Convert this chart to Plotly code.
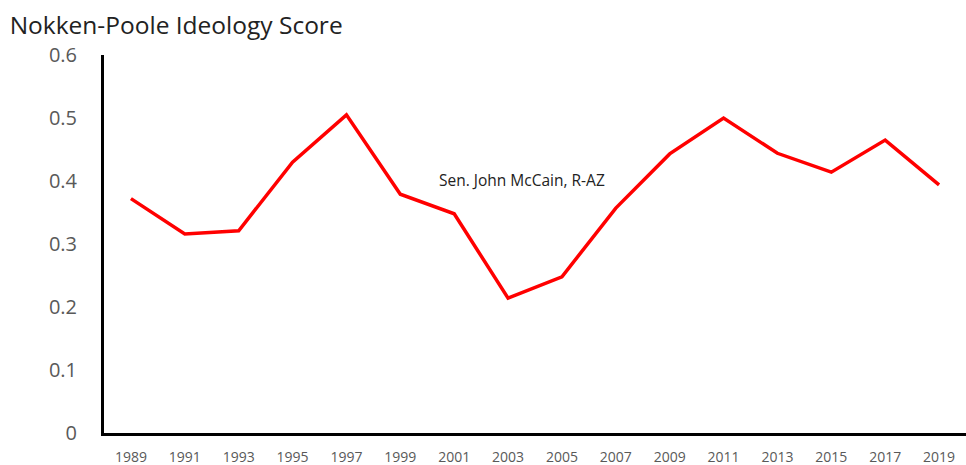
import plotly.graph_objects as go

years = ["1989", "1991", "1993", "1995", "1997", "1999", "2001", "2003",
         "2005", "2007", "2009", "2011", "2013", "2015", "2017", "2019"]
scores = [0.372, 0.316, 0.321, 0.430, 0.505, 0.379, 0.348, 0.214,
          0.248, 0.357, 0.443, 0.500, 0.444, 0.414, 0.465, 0.394]
y_ticks = [0, 0.1, 0.2, 0.3, 0.4, 0.5, 0.6]
y_tick_text = ["0", "0.1", "0.2", "0.3", "0.4", "0.5", "0.6"]

fig = go.Figure()
fig.add_trace(go.Scatter(x=years, y=scores, mode="lines",
                         line=dict(color="#ff0000", width=3.5)))

fig.add_annotation(xref="paper", yref="paper", x=0.485, y=0.67,
                   text="Sen. John McCain, R-AZ",
                   showarrow=False, xanchor="center", yanchor="middle",
                   font=dict(family="Open Sans", size=15.5, color="#222222"))

fig.update_layout(
    width=966, height=465,
    margin=dict(l=104, r=0, t=55, b=32, autoexpand=False),
    paper_bgcolor="white", plot_bgcolor="white",
    showlegend=False,
    title=dict(text="Nokken-Poole Ideology Score", x=0.01, xanchor="left",
               y=0.945, yanchor="middle",
               font=dict(family="Open Sans", size=24.5, color="#222222")),
    xaxis=dict(type="category", range=[-0.5, 15.5], showgrid=False,
               showline=True, linecolor="black", linewidth=3,
               ticks="", tickfont=dict(family="Open Sans", size=14, color="#595959"),
               ticklabelstandoff=9, zeroline=False, automargin=False),
    yaxis=dict(range=[0, 0.6], tickvals=y_ticks, ticktext=y_tick_text,
               showgrid=False, showline=True, linecolor="black", linewidth=3,
               ticks="", tickfont=dict(family="Open Sans", size=20, color="#595959"),
               ticklabelstandoff=20, zeroline=False, automargin=False),
)

fig.write_html("out.html", config={"displayModeBar": False},
               post_script="document.body.style.margin='0';")
